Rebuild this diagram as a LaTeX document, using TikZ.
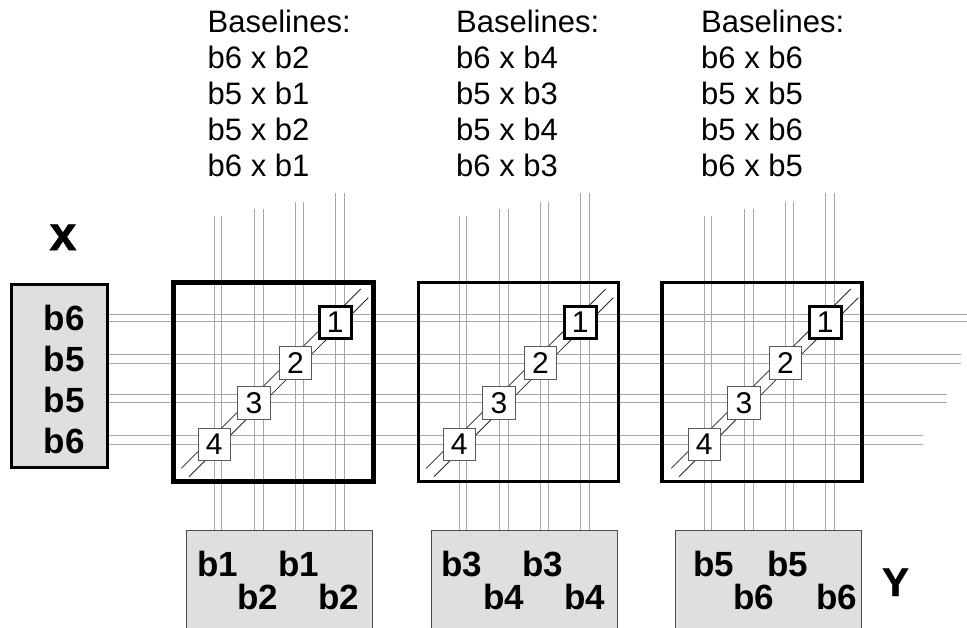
\documentclass[tikz,border=0pt]{standalone}
\usepackage{fontspec}
\setmainfont{Liberation Sans}
\newfontfamily\heavyfont[FakeBold=1.2]{Liberation Sans Bold}
\definecolor{boxfill}{gray}{0.875}
\definecolor{wire}{gray}{0.66}
\tikzset{
  wirepath/.style={draw=wire, line width=0.9pt},
  diagpath/.style={draw=black!85, line width=0.8pt},
  pebox/.style={draw=black!65, fill=white, line width=1pt, minimum size=32.5pt, inner sep=0pt, font=\fontsize{30}{30}\selectfont},
  peboxfirst/.style={pebox, draw=black, line width=3pt, minimum size=31.5pt},
  arraybox/.style={draw=black, outer sep=0pt, minimum width=200pt, minimum height=199pt, inner sep=0pt},
  inputbox/.style={draw=black!70, fill=boxfill, line width=1pt, minimum width=186pt, minimum height=110pt, inner sep=0pt},
  blabel/.style={inner sep=0pt, anchor=base west, font=\fontsize{35}{35}\selectfont\bfseries},
  bigname/.style={inner sep=0pt, anchor=base, font=\fontsize{#1}{#1}\heavyfont},
  baselist/.style={inner sep=0pt, anchor=north west, align=left, font=\fontsize{31}{36}\selectfont}
}
\begin{document}
\begin{tikzpicture}[x=1pt,y=-1pt]
    \useasboundingbox (0,0) rectangle (967,627);
    \clip (0,0) rectangle (967,627);

    % baselines
    \node (list1) [baselist] at (207.5,9.7) {Baselines:\\b6 x b2\\b5 x b1\\b5 x b2\\b6 x b1};
    \node (list2) [baselist] at (456,9.7) {Baselines:\\b6 x b4\\b5 x b3\\b5 x b4\\b6 x b3};
    \node (list3) [baselist] at (701,9.7) {Baselines:\\b6 x b6\\b5 x b5\\b5 x b6\\b6 x b5};

    % x input
    \node (xname) [bigname=48] at (63,250) {x};
    \node (xbox) [draw=black, fill=boxfill, line width=3pt, minimum width=96pt, minimum height=183pt, inner sep=0pt] at (59,375.5) {};
    \foreach \ly/\ltxt/\ln in {330/b6/a,371/b5/b,412/b5/c,453/b6/d}
      \node (x\ln) [blabel] at (43.5,\ly) {\ltxt};

    % y inputs
    \node (ybox1) [inputbox, anchor=north west] at (186,530) {};
    \node (ybox2) [inputbox, anchor=north west] at (431,530) {};
    \node (ybox3) [inputbox, anchor=north west] at (675,530) {};
    \node (yname) [bigname=40] at (895.5,596) {Y};

    % horizontal wires
    \foreach \ly/\lend/\ln in {314.3/967/1,321.7/967/2,354/961/3,363/961/4,394/947/5,402.7/947/6,435.7/923/7,444.3/923/8} {
      \coordinate (hend\ln) at (\lend,\ly);
      \draw [wirepath] (xbox.east |- hend\ln) -- (hend\ln);
    }

    % vertical wires, diagonals, cells
    \foreach \off/\an in {0/1,245/2,490/3} {
      \foreach \lx/\ltop/\ln in {214/216/1,221.7/216/2,254.3/209/3,263.3/209/4,295.3/201.7/5,303/201.7/6,335.7/193/7,344.3/193/8} {
        \coordinate (vtop\an\ln) at ({\lx+\off},\ltop);
        \draw [wirepath] (vtop\an\ln) -- (vtop\an\ln |- ybox\an.north);
      }
      \coordinate (dla\an) at ({181.3+\off},468.3);
      \coordinate (dlb\an) at ({360.7+\off},289);
      \coordinate (dra\an) at ({189+\off},476.7);
      \coordinate (drb\an) at ({368.3+\off},297.7);
      \draw [diagpath] (dla\an) -- (dlb\an);
      \draw [diagpath] (dra\an) -- (drb\an);
      \node (pe\an-1) [peboxfirst] at ({335.3+\off},322.5) {1};
      \node (pe\an-2) [pebox] at ({295.5+\off},363) {2};
      \node (pe\an-3) [pebox] at ({254+\off},403) {3};
      \node (pe\an-4) [pebox] at ({214.3+\off},444.3) {4};
    }

    % arrays
    \foreach \ax/\aw/\an in {273.5/4.2/1,518.5/3.2/2,762/3.2/3}
      \node (array\an) [arraybox, line width=\aw pt] at (\ax,382) {};

    % y labels
    \foreach \lx/\ly/\ltxt/\ln in {197/576/b1/a,237/609/b2/b,278/576/b1/c,318/609/b2/d,
                                   441/576/b3/e,483/609/b4/f,522/576/b3/g,564/609/b4/h,
                                   693/576/b5/i,733/609/b6/j,767/576/b5/k,816/609/b6/l}
      \node (y\ln) [blabel] at (\lx,\ly) {\ltxt};
\end{tikzpicture}
\end{document}
